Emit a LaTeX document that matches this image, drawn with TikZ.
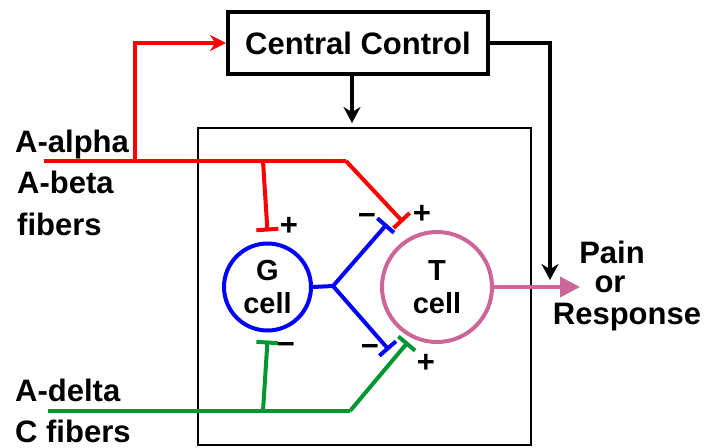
\documentclass[tikz,border=0pt]{standalone}
\usepackage{fontspec}
\setmainfont{Liberation Sans}
\usetikzlibrary{arrows.meta,calc,positioning}
\definecolor{FastClr}{RGB}{255,0,0}
\definecolor{SlowClr}{RGB}{0,150,50}
\definecolor{GateClr}{RGB}{0,0,255}
\definecolor{TransClr}{RGB}{204,102,153}

\tikzset{
  txt/.style={font=\fontsize{31}{33}\selectfont\bfseries,inner sep=0pt},
  celltxt/.style={font=\fontsize{29}{33}\selectfont\bfseries,align=center,inner sep=0pt},
  fiber/.style={line width=4pt},
  synapse/.style={-{Bar[width=22pt,line width=4pt]}},
  sign/.style={font=\fontsize{31}{33}\selectfont\bfseries,inner sep=0pt}
}

\begin{document}
\begin{tikzpicture}[x=1pt,y=-1pt]
\useasboundingbox (0,0) rectangle (706,447);

% boxes and cells
\node[draw,line width=4pt,minimum width=260,minimum height=62,txt] (cc) at (358,43) {Central Control};
\node[draw,line width=2.5pt,minimum width=333,minimum height=317] (horn) at (364.5,286.5) {};
\node[circle,draw=GateClr,line width=4pt,minimum size=87,celltxt] (g) at (267.5,287) {G\\cell};
\node[circle,draw=TransClr,line width=4pt,minimum size=110,celltxt] (t) at (437,287) {T\\cell};

% fibre points
\coordinate (ab) at (44,161);
\coordinate (abUp) at (135,161);
\coordinate (abG) at (263,161);
\coordinate (abBend) at (346,161);
\coordinate (abEnd) at (403,222);
\coordinate (ad) at (48,411);
\coordinate (adG) at (263,411);
\coordinate (adBend) at (350,411);
\coordinate (adEnd) at (408,342);
\coordinate (gFork) at (333,286);
\coordinate (gUp) at (387,224);
\coordinate (gDown) at (389,350);
\coordinate (ccDown) at (352,123);
\coordinate (ccSide) at (550,280);
\coordinate (out) at (580,287);

% large fibres
\draw[fiber,FastClr] (ab) -- (abBend);
\draw[fiber,FastClr,synapse] (abBend) -- (abEnd);
\draw[fiber,FastClr,-{Stealth[length=16pt,width=16pt]}] (abUp) |- (cc.west);
\draw[fiber,FastClr,synapse] (abG) -- ($(g.north)+(0,-10)$);

% small fibres
\draw[fiber,SlowClr] (ad) -- (adBend);
\draw[fiber,SlowClr,synapse] (adBend) -- (adEnd);
\draw[fiber,SlowClr,synapse] (adG) -- ($(g.south)+(0,8)$);

% gate cell output
\draw[fiber,GateClr] (g.east) -- (gFork);
\draw[fiber,GateClr,synapse] (gFork) -- (gUp);
\draw[fiber,GateClr,synapse] (gFork) -- (gDown);

% central control
\draw[line width=4pt,-{Stealth[length=16pt,width=17pt]}] (cc.south -| ccDown) -- (ccDown);
\draw[line width=4pt,-{Stealth[length=16pt,width=17pt]}] (cc.east) -| (ccSide);

% output
\draw[line width=4pt,TransClr,-{Triangle[length=20pt,width=20pt]}] (t.east) -- (out);

% signs
\node[sign] (gPlus) at (289,226) {+};
\node[sign] (gMinus) at (286,348) {−};
\node[sign] (tMinusUp) at (367,219) {−};
\node[sign] (tPlusUp) at (422,214) {+};
\node[sign] (tMinusDn) at (370,350) {−};
\node[sign] (tPlusDn) at (426,363) {+};

% labels
\node[txt,anchor=base west] (alpha) at (15,152) {A-alpha};
\node[txt,anchor=base west] (beta) at (17,193) {A-beta};
\node[txt,anchor=base west] (fibA) at (17,235) {fibers};
\node[txt,anchor=base west] (delta) at (15,401) {A-delta};
\node[txt,anchor=base west] (fibC) at (15,442) {C fibers};
\node[txt,anchor=base] (pain) at (612,263) {Pain};
\node[txt,anchor=base] (or) at (610,292) {or};
\node[txt,anchor=base] (resp) at (627,324) {Response};
\end{tikzpicture}
\end{document}
